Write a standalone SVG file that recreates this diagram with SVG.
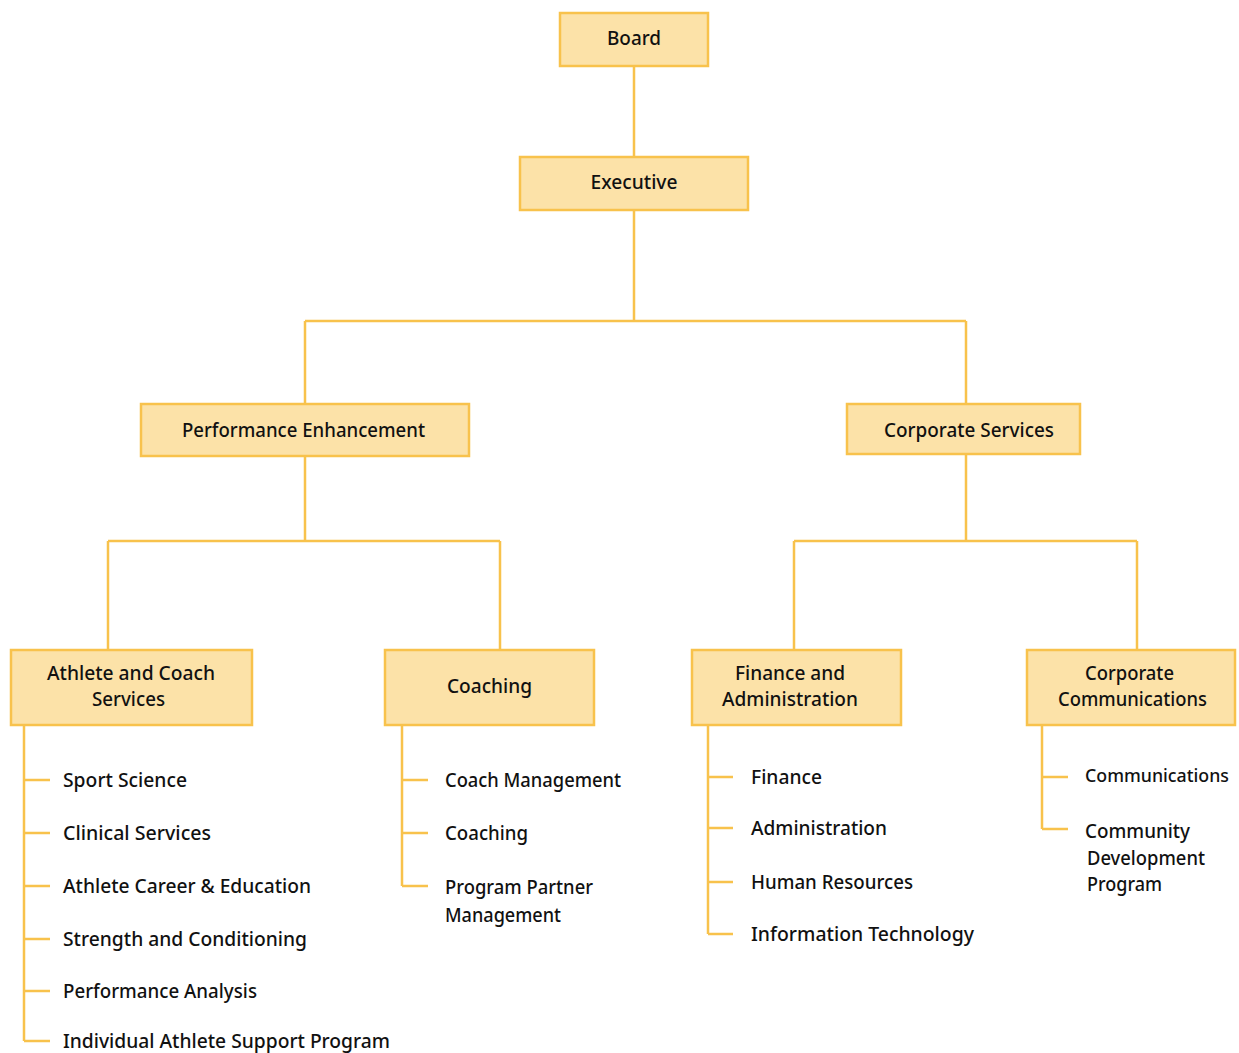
<svg xmlns="http://www.w3.org/2000/svg" width="1239" height="1053" viewBox="0 0 1239 1053">
<style>
.box{fill:#FCE2A8;stroke:#F8C24C;stroke-width:2.5}
.ln{fill:none;stroke:#F8C24C;stroke-width:2.5}
text{font-family:"Noto Sans","DejaVu Sans",sans-serif;font-size:20px;fill:#111;font-weight:500}
.c{text-anchor:middle}
</style>
<rect width="1239" height="1053" fill="#fff"/>
<g id="connectors">
<path class="ln" d="M634 66V157M634 210V321M305 321H966M305 321V404M966 321V404"/>
<path class="ln" d="M305 456V541M108 541H500M108 541V650M500 541V650"/>
<path class="ln" d="M966 454V541M794 541H1137M794 541V650M1137 541V650"/>
<path class="ln" d="M24 725V1041M24 780H50M24 833H50M24 886H50M24 939H50M24 991H50M24 1041H50"/>
<path class="ln" d="M402 725V886M402 780H428M402 833H428M402 886H428"/>
<path class="ln" d="M708 725V934M708 777H733M708 828H733M708 882H733M708 934H733"/>
<path class="ln" d="M1042 725V829M1042 777H1068M1042 829H1068"/>
</g>
<g id="board"><rect class="box" x="560" y="13" width="148" height="53"/><text class="c" x="634" y="45" textLength="54" lengthAdjust="spacingAndGlyphs">Board</text></g>
<g id="executive"><rect class="box" x="520" y="157" width="228" height="53"/><text class="c" x="634" y="189" textLength="87" lengthAdjust="spacingAndGlyphs">Executive</text></g>
<g id="perf"><rect class="box" x="141" y="404" width="328" height="52"/><text class="c" x="303.5" y="437" textLength="243" lengthAdjust="spacingAndGlyphs">Performance Enhancement</text></g>
<g id="corpserv"><rect class="box" x="847" y="404" width="233" height="50"/><text class="c" x="969" y="437" textLength="170" lengthAdjust="spacingAndGlyphs">Corporate Services</text></g>
<g id="acs"><rect class="box" x="11" y="650" width="241" height="75"/><text class="c" x="131" y="680" textLength="168" lengthAdjust="spacingAndGlyphs">Athlete and Coach</text><text class="c" x="128.5" y="706" textLength="73" lengthAdjust="spacingAndGlyphs">Services</text></g>
<g id="coaching"><rect class="box" x="385" y="650" width="209" height="75"/><text class="c" x="489.5" y="693" textLength="85" lengthAdjust="spacingAndGlyphs">Coaching</text></g>
<g id="finadmin"><rect class="box" x="692" y="650" width="209" height="75"/><text class="c" x="790" y="680" textLength="110" lengthAdjust="spacingAndGlyphs">Finance and</text><text class="c" x="790" y="706" textLength="136" lengthAdjust="spacingAndGlyphs">Administration</text></g>
<g id="corpcomm"><rect class="box" x="1027" y="650" width="208" height="75"/><text class="c" x="1129.5" y="680" textLength="89" lengthAdjust="spacingAndGlyphs">Corporate</text><text class="c" x="1132.5" y="706" textLength="149" lengthAdjust="spacingAndGlyphs">Communications</text></g>
<g id="acs-items">
<text x="63" y="787" textLength="124" lengthAdjust="spacingAndGlyphs">Sport Science</text>
<text x="63" y="840" textLength="148" lengthAdjust="spacingAndGlyphs">Clinical Services</text>
<text x="63" y="893" textLength="248" lengthAdjust="spacingAndGlyphs">Athlete Career &amp; Education</text>
<text x="63" y="946" textLength="244" lengthAdjust="spacingAndGlyphs">Strength and Conditioning</text>
<text x="63" y="998" textLength="194" lengthAdjust="spacingAndGlyphs">Performance Analysis</text>
<text x="63" y="1048" textLength="327" lengthAdjust="spacingAndGlyphs">Individual Athlete Support Program</text>
</g>
<g id="coaching-items">
<text x="445" y="787" textLength="176" lengthAdjust="spacingAndGlyphs">Coach Management</text>
<text x="445" y="840" textLength="83" lengthAdjust="spacingAndGlyphs">Coaching</text>
<text x="445" y="894" textLength="148" lengthAdjust="spacingAndGlyphs">Program Partner</text>
<text x="445" y="922" textLength="116" lengthAdjust="spacingAndGlyphs">Management</text>
</g>
<g id="finadmin-items">
<text x="751" y="784" textLength="71" lengthAdjust="spacingAndGlyphs">Finance</text>
<text x="751" y="835" textLength="136" lengthAdjust="spacingAndGlyphs">Administration</text>
<text x="751" y="889" textLength="162" lengthAdjust="spacingAndGlyphs">Human Resources</text>
<text x="751" y="941" textLength="223" lengthAdjust="spacingAndGlyphs">Information Technology</text>
</g>
<g id="corpcomm-items">
<text x="1085" y="782" style="font-size:18.5px" textLength="144" lengthAdjust="spacingAndGlyphs">Communications</text>
<text x="1085" y="838" textLength="105" lengthAdjust="spacingAndGlyphs">Community</text>
<text x="1087" y="865" textLength="118" lengthAdjust="spacingAndGlyphs">Development</text>
<text x="1087" y="891" textLength="75" lengthAdjust="spacingAndGlyphs">Program</text>
</g>
</svg>
